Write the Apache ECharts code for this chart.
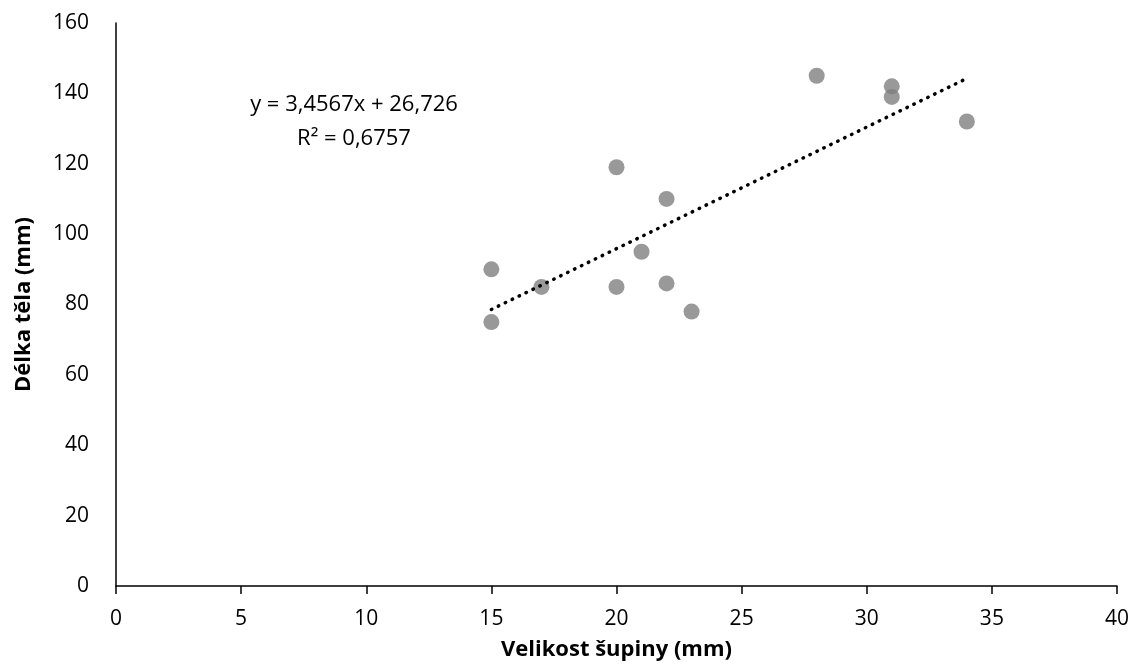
<!DOCTYPE html>
<html>
<head>
<meta charset="utf-8">
<script src="https://cdn.jsdelivr.net/npm/echarts@6/dist/echarts.min.js"></script>
<style>
  html, body { margin: 0; padding: 0; background: #fff; }
  #chart { width: 1137px; height: 666px; }
</style>
</head>
<body>
<div id="chart"></div>
<script>
// velikost šupiny (mm) a délka těla (mm)
const scaleSize = [15, 15, 17, 20, 20, 21, 22, 22, 23, 28, 31, 31, 34];
const bodyLength = [90, 75, 85, 119, 85, 95, 110, 86, 78, 145, 142, 139, 132];

// lineární trend, y = 3,4567x + 26,726
const trendX = [15, 34];
const trendY = [78.58, 144.25];

const equationLines = ['y = 3,4567x + 26,726', 'R² = 0,6757'];

const font = '"Open Sans", "Liberation Sans", sans-serif';

const chart = echarts.init(document.getElementById('chart'));

chart.setOption({
  animation: false,
  grid: { left: 116, right: 20, top: 23, bottom: 79 },
  xAxis: {
    type: 'value',
    min: 0,
    max: 40,
    interval: 5,
    name: 'Velikost šupiny (mm)',
    nameLocation: 'middle',
    nameGap: 53,
    nameTextStyle: { fontFamily: font, fontSize: 22, fontWeight: 'bold', color: '#000' },
    axisLine: { lineStyle: { color: '#000', width: 1.5 } },
    axisTick: { show: true, length: 8, lineStyle: { color: '#000', width: 1.5 } },
    axisLabel: { fontFamily: font, fontSize: 21, color: '#000', margin: 23 },
    splitLine: { show: false }
  },
  yAxis: {
    type: 'value',
    min: 0,
    max: 160,
    interval: 20,
    name: 'Délka těla (mm)',
    nameLocation: 'middle',
    nameGap: 81,
    nameRotate: 90,
    nameTextStyle: { fontFamily: font, fontSize: 22, fontWeight: 'bold', color: '#000' },
    axisLine: { show: true, lineStyle: { color: '#000', width: 1.5 } },
    axisTick: { show: false },
    axisLabel: { fontFamily: font, fontSize: 21, color: '#000', margin: 27 },
    splitLine: { show: false }
  },
  series: [
    {
      type: 'line',
      data: trendX.map((x, i) => [x, trendY[i]]),
      showSymbol: false,
      lineStyle: { color: '#000', width: 3.5, type: [0.5, 7.2], cap: 'round' },
      z: 3
    },
    {
      type: 'scatter',
      data: scaleSize.map((x, i) => [x, bodyLength[i]]),
      symbol: 'circle',
      symbolSize: 16,
      itemStyle: { color: '#808080' },
      z: 2
    }
  ],
  graphic: equationLines.map((line, i) => ({
    type: 'text',
    x: 354,
    y: 105 + i * 34,
    style: {
      text: line,
      fontFamily: font,
      fontSize: 22,
      fill: '#000',
      align: 'center',
      verticalAlign: 'middle'
    }
  }))
});
</script>
</body>
</html>
